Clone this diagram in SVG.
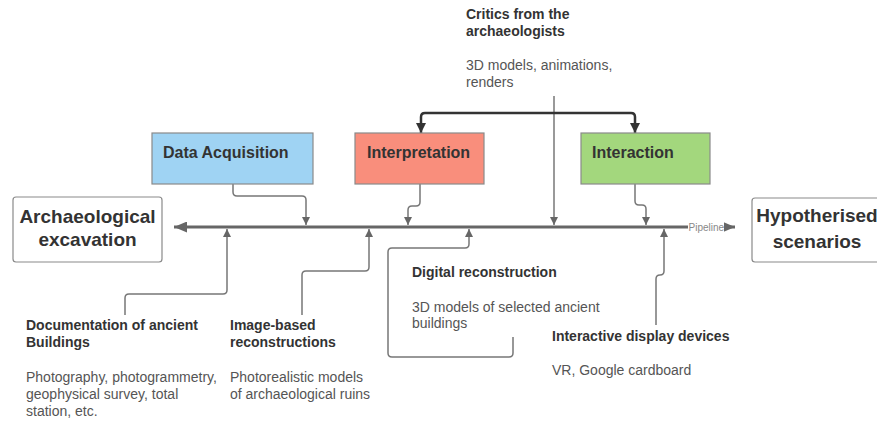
<svg xmlns="http://www.w3.org/2000/svg" width="877" height="421" viewBox="0 0 877 421">
<style>
.bt{font-family:"Liberation Sans",Arial,sans-serif;font-weight:bold;fill:#333;}
.t{font-family:"Liberation Sans",Arial,sans-serif;fill:#555;font-size:14px;}
.h{font-size:14px;}
.box{stroke:#8a8a8a;stroke-width:1.2;}
.conn{fill:none;stroke:#777;stroke-width:1.5;}
</style>
<defs>
<marker id="ag" markerUnits="userSpaceOnUse" markerWidth="8" markerHeight="8" refX="8" refY="4" orient="auto"><path d="M0,0 L8,4 L0,8 z" fill="#666"/></marker>
<marker id="ab" markerUnits="userSpaceOnUse" markerWidth="10" markerHeight="10" refX="10" refY="5" orient="auto"><path d="M0,0 L10,5 L0,10 z" fill="#333"/></marker>
<marker id="ap" markerUnits="userSpaceOnUse" markerWidth="13" markerHeight="11" refX="13" refY="5.5" orient="auto"><path d="M0,0 L13,5.5 L0,11 z" fill="#666"/></marker>
</defs>

<g id="connectors">
<line x1="228" y1="227" x2="174" y2="227" stroke="#666" stroke-width="3" marker-end="url(#ap)"/>
<line x1="228" y1="227" x2="735" y2="227" stroke="#666" stroke-width="3" marker-end="url(#ap)"/>
<rect x="688" y="221" width="36" height="12" fill="#fff"/>
<text x="688.5" y="230.5" font-family="Liberation Sans, Arial, sans-serif" font-size="10" fill="#888">Pipeline</text>
<path class="conn" d="M233,184 V192 Q233,196 237,196 H302 Q306,196 306,200 V225" marker-end="url(#ag)"/>
<path class="conn" d="M420,184 V202 Q420,206 416,206 H412 Q408,206 408,210 V225" marker-end="url(#ag)"/>
<path class="conn" d="M554,96 V225" marker-end="url(#ag)"/>
<path class="conn" d="M635,184 V201 Q635,205 639,205 H642 Q646,205 646,209 V225" marker-end="url(#ag)"/>
<path class="conn" d="M125,315 V298 Q125,294 129,294 H223 Q227,294 227,290 V229" marker-end="url(#ag)"/>
<path class="conn" d="M302,315 V275 Q302,271 306,271 H365 Q369,271 369,267 V229" marker-end="url(#ag)"/>
<path class="conn" d="M513,337 V353 Q513,357 509,357 H392 Q388,357 388,353 V252 Q388,248 392,248 H465 Q469,248 469,244 V229" marker-end="url(#ag)"/>
<path class="conn" d="M656,325 V279 Q656,275 660,275 Q664,275 664,271 V229" marker-end="url(#ag)"/>
<path d="M528,113 H425 Q421,113 421,117 V133" fill="none" stroke="#333" stroke-width="2.5" marker-end="url(#ab)"/>
<path d="M528,113 H631 Q635,113 635,117 V133" fill="none" stroke="#333" stroke-width="2.5" marker-end="url(#ab)"/>
</g>

<g id="archaeological-excavation">
<rect class="box" x="13" y="197" width="149" height="65" rx="3" fill="#fff"/>
<text class="bt" x="87.5" y="223" font-size="19" text-anchor="middle">Archaeological</text>
<text class="bt" x="87.5" y="246" font-size="19" text-anchor="middle">excavation</text>
</g>

<g id="hypotherised-scenarios">
<rect class="box" x="752" y="198" width="140" height="64" rx="3" fill="#fff"/>
<text class="bt" x="817" y="222" font-size="19" text-anchor="middle">Hypotherised</text>
<text class="bt" x="817" y="248" font-size="19" text-anchor="middle">scenarios</text>
</g>

<g id="data-acquisition">
<rect class="box" x="152" y="133" width="161" height="51" fill="#9fd3f3"/>
<text class="bt" x="163" y="158" font-size="16">Data Acquisition</text>
</g>

<g id="interpretation">
<rect class="box" x="355" y="133" width="129" height="51" fill="#f98e7c"/>
<text class="bt" x="367" y="158" font-size="16">Interpretation</text>
</g>

<g id="interaction">
<rect class="box" x="581" y="133" width="129" height="51" fill="#a3d77d"/>
<text class="bt" x="592" y="158" font-size="16">Interaction</text>
</g>

<g id="critics">
<text class="bt h" x="466" y="19">Critics from the</text>
<text class="bt h" x="466" y="36">archaeologists</text>
<text class="t" x="466" y="70">3D models, animations,</text>
<text class="t" x="466" y="87">renders</text>
</g>

<g id="documentation">
<text class="bt h" x="26" y="330">Documentation of ancient</text>
<text class="bt h" x="26" y="347">Buildings</text>
<text class="t" x="26" y="382">Photography, photogrammetry,</text>
<text class="t" x="26" y="399">geophysical survey, total</text>
<text class="t" x="26" y="416">station, etc.</text>
</g>

<g id="image-based">
<text class="bt h" x="230" y="330">Image-based</text>
<text class="bt h" x="230" y="347">reconstructions</text>
<text class="t" x="230" y="382">Photorealistic models</text>
<text class="t" x="230" y="399">of archaeological ruins</text>
</g>

<g id="digital-reconstruction">
<text class="bt h" x="412" y="277">Digital reconstruction</text>
<text class="t" x="412" y="312">3D models of selected ancient</text>
<text class="t" x="412" y="328">buildings</text>
</g>

<g id="interactive-display">
<text class="bt h" x="552" y="341">Interactive display devices</text>
<text class="t" x="552" y="375">VR, Google cardboard</text>
</g>
</svg>
